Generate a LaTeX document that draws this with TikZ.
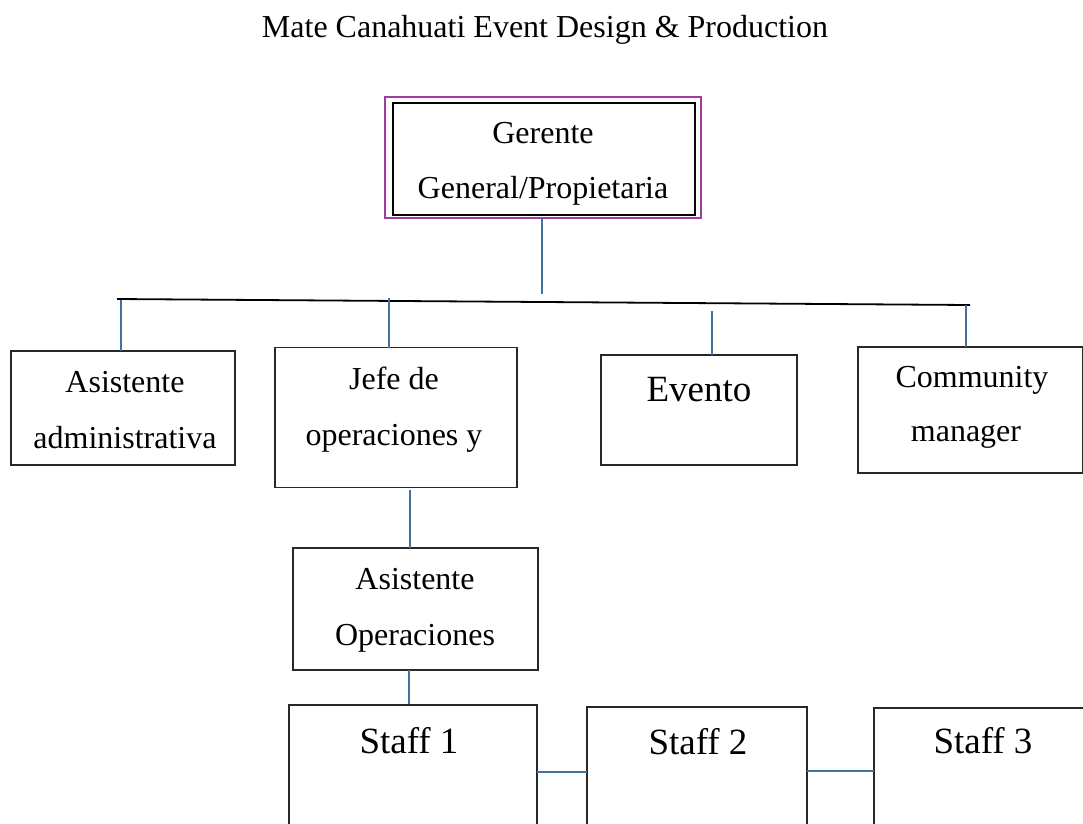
\documentclass[tikz,border=0pt]{standalone}
\usepackage{fontspec}
\setmainfont{Liberation Serif}
\definecolor{connc}{RGB}{65,113,156}
\definecolor{purp}{RGB}{163,58,160}
\definecolor{boxc}{RGB}{40,40,40}
\tikzset{
  boxn/.style={draw=boxc, line width=1.4pt, rectangle, inner sep=0pt, outer sep=0pt, fill=white},
  txt/.style={anchor=base, inner sep=0pt, font=\fontsize{32}{38}\selectfont},
  bigtxt/.style={anchor=base, inner sep=0pt, font=\fontsize{37}{44}\selectfont},
  conn/.style={draw=connc, line width=1.2pt},
}
\begin{document}
\begin{tikzpicture}[x=1pt,y=-1pt]
\useasboundingbox (0,0) rectangle (1083,823);
\clip (0,0) rectangle (1083,823);
\fill[white] (0,0) rectangle (1083,823);

% title
\node[txt] (title) at (545,37) {Mate Canahuati Event Design \& Production};

% top box
\node[draw=purp, line width=2.2pt, inner sep=0pt, outer sep=0pt, minimum width=316pt, minimum height=121pt] (gmo) at (543,157.5) {};
\node[draw=black, line width=2.6pt, inner sep=0pt, outer sep=0pt, minimum width=302pt, minimum height=112pt] (gm) at (544,159) {};
\node[txt] (gm1) at (543,143) {Gerente};
\node[txt] (gm2) at (543,198) {General/Propietaria};

% main horizontal line
\coordinate (hl) at (117,299);
\coordinate (hr) at (970,305);
\coordinate (gdown) at (542,294);
\draw[conn] (gdown |- gmo.south) -- (gdown);
\draw[black, line width=1.8pt] (hl) -- (hr);

% second row boxes
\node[boxn, minimum width=224pt, minimum height=114pt] (asis) at (123,408) {};
\node[txt] (asis1) at (125,392) {Asistente};
\node[txt] (asis2) at (125,448) {administrativa};

\node[boxn, minimum width=242pt, minimum height=140pt] (jefe) at (396,417.5) {};
\node[txt] (jefe1) at (394,389) {Jefe de};
\node[txt] (jefe2) at (394,445) {operaciones y};

\node[boxn, minimum width=196pt, minimum height=110pt] (evento) at (699,410) {};
\node[bigtxt] (evento1) at (699,401) {Evento};

\node[boxn, minimum width=225pt, minimum height=126pt] (comm) at (970.5,410) {};
\node[txt] (comm1) at (972,387) {Community};
\node[txt] (comm2) at (966,441) {manager};

% verticals from horizontal line
\coordinate (v1) at (121,300);
\coordinate (v2) at (389,298);
\coordinate (v3) at (712,311);
\coordinate (v4) at (966,305);
\draw[conn] (v1) -- (v1 |- asis.north);
\draw[conn] (v2) -- (v2 |- jefe.north);
\draw[conn] (v3) -- (v3 |- evento.north);
\draw[conn] (v4) -- (v4 |- comm.north);

% asistente operaciones
\node[boxn, minimum width=245pt, minimum height=122pt] (ops) at (415.5,609) {};
\node[txt] (ops1) at (415,589) {Asistente};
\node[txt] (ops2) at (415,645) {Operaciones};
\coordinate (j1) at (410,490);
\draw[conn] (j1) -- (j1 |- ops.north);
\coordinate (o1) at (409,670);
\draw[conn] (o1) -- (o1 |- 0,705);

% staff boxes
\node[boxn, minimum width=248pt, minimum height=160pt, anchor=north west] (s1) at (289,705) {};
\node[boxn, minimum width=220pt, minimum height=160pt, anchor=north west] (s2) at (587,707) {};
\node[boxn, minimum width=220pt, minimum height=160pt, anchor=north west] (s3) at (874,708) {};
\node[bigtxt] (s1t) at (409,753) {Staff 1};
\node[bigtxt] (s2t) at (698,754) {Staff 2};
\node[bigtxt] (s3t) at (983,753) {Staff 3};

\coordinate (k1) at (537,772);
\draw[conn] (k1) -- (k1 -| s2.west);
\coordinate (k2) at (807,771);
\draw[conn] (k2) -- (k2 -| s3.west);
\end{tikzpicture}
\end{document}
